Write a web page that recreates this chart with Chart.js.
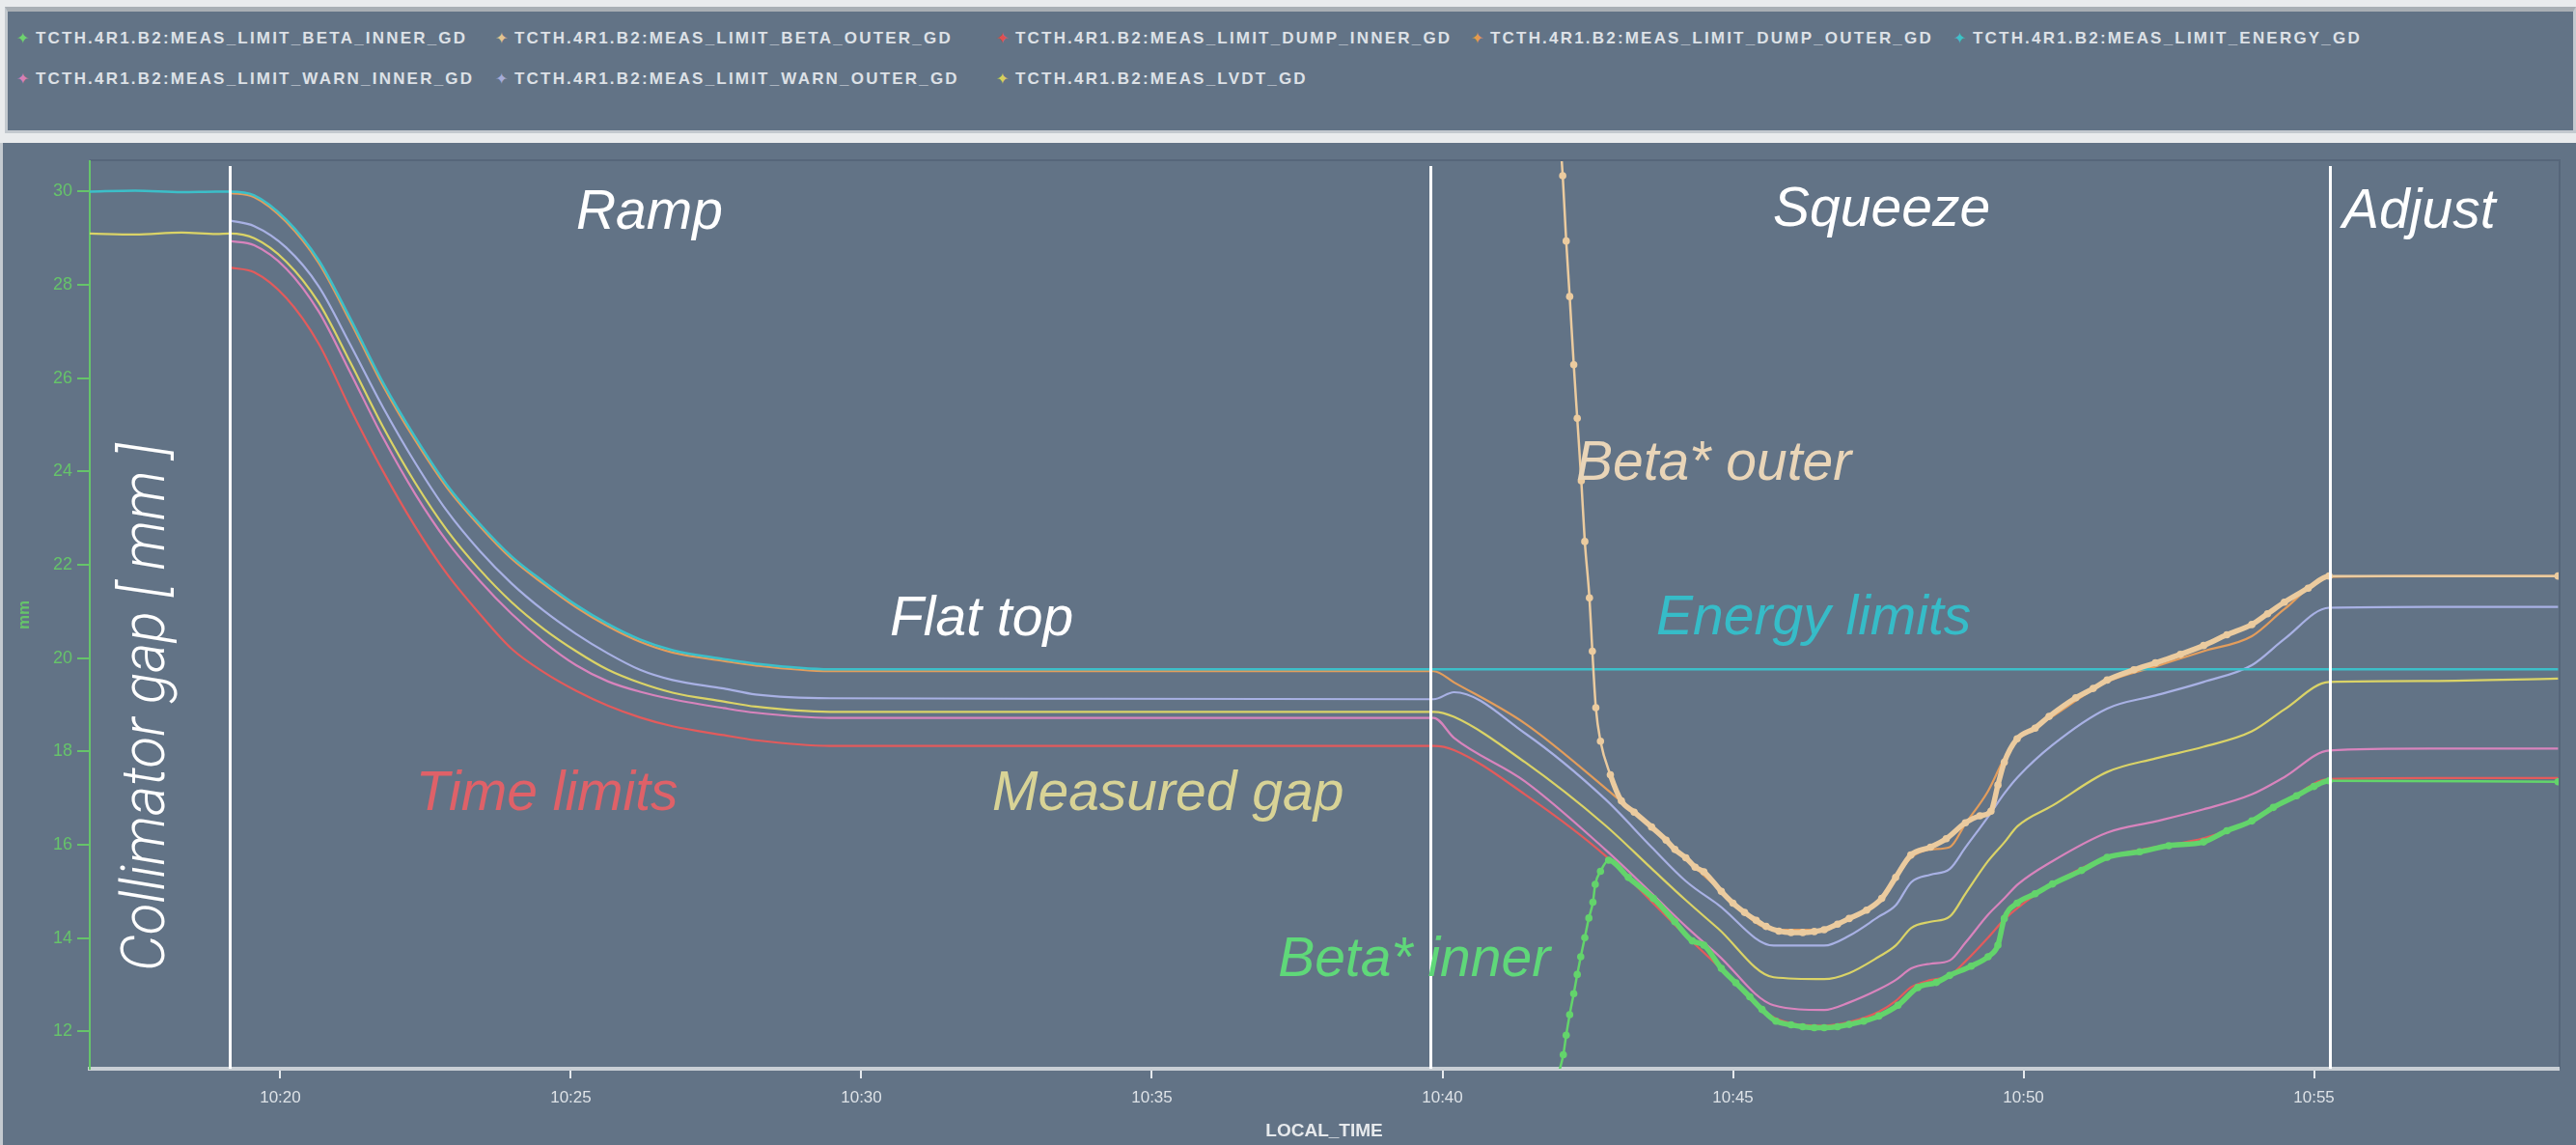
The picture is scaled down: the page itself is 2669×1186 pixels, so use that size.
<!DOCTYPE html>
<html>
<head>
<meta charset="utf-8">
<script src="https://cdn.jsdelivr.net/npm/chart.js@4.4.1/dist/chart.umd.min.js"></script>
<style>
html,body{margin:0;padding:0;width:2669px;height:1186px;overflow:hidden;background:#e9ebed;}
#legendBox{position:absolute;left:5px;top:7px;width:2664px;height:131px;box-sizing:border-box;background:#627386;border:3px solid #c3c9cf;border-top:5px solid #a9afb5;}
.lg{position:absolute;white-space:nowrap;height:20px;line-height:20px;font:bold 17px "Liberation Sans",Arial,sans-serif;letter-spacing:2.2px;color:#dde1e6;}
.lg .mk{display:inline-block;width:20px;font:16px "DejaVu Sans",sans-serif;letter-spacing:0;}
#wrap{position:absolute;left:0;top:148px;width:2669px;height:1038px;}
</style>
</head>
<body>
<div id="legendBox"></div>
<div id="legend"></div>
<div id="wrap"><canvas id="c" width="2669" height="1038"></canvas></div>
<script>
// ---------- data ----------
const seriesNames = [
  "TCTH.4R1.B2:MEAS_LIMIT_BETA_INNER_GD",
  "TCTH.4R1.B2:MEAS_LIMIT_BETA_OUTER_GD",
  "TCTH.4R1.B2:MEAS_LIMIT_DUMP_INNER_GD",
  "TCTH.4R1.B2:MEAS_LIMIT_DUMP_OUTER_GD",
  "TCTH.4R1.B2:MEAS_LIMIT_ENERGY_GD",
  "TCTH.4R1.B2:MEAS_LIMIT_WARN_INNER_GD",
  "TCTH.4R1.B2:MEAS_LIMIT_WARN_OUTER_GD",
  "TCTH.4R1.B2:MEAS_LVDT_GD"
];
const xTickValues = [20, 25, 30, 35, 40, 45, 50, 55];
const xTickLabels = ["10:20", "10:25", "10:30", "10:35", "10:40", "10:45", "10:50", "10:55"];
const yTickValues = [12, 14, 16, 18, 20, 22, 24, 26, 28, 30];

// minutes after 10:00
const limitTimes = [16.72, 17.5, 18.3, 18.9,
  19.13, 19.55, 20.1, 20.66, 21.2, 21.77, 22.32, 22.87, 23.43, 23.98, 24.53, 25.09, 25.64, 26.19, 26.75, 27.63, 28.18, 29.46,
  34.0, 39.85,
  40.2, 41.42, 42.8, 43.6, 44.19, 44.74, 45.7, 46.57, 47.0, 47.51, 47.8, 48.07, 48.4, 48.73, 49.0, 49.39, 49.67, 49.9, 50.5, 51.44, 52.27, 53.1, 53.93, 54.49, 55.26,
  57.0, 59.2];

const energyVals = [30.0, 30.02, 29.99, 30.0,
  30.0, 29.92, 29.4, 28.53, 27.29, 25.9, 24.74, 23.71, 22.88, 22.18, 21.64, 21.14, 20.73, 20.4, 20.17, 19.98, 19.88, 19.76,
  19.76, 19.76,
  19.76, 19.76, 19.76, 19.76, 19.76, 19.76, 19.76, 19.76, 19.76, 19.76, 19.76, 19.76, 19.76, 19.76, 19.76, 19.76, 19.76, 19.76, 19.76, 19.76, 19.76, 19.76, 19.76, 19.76, 19.76,
  19.76, 19.76];

const dumpOuterVals = [null, null, null, null,
  29.97, 29.88, 29.35, 28.47, 27.22, 25.83, 24.67, 23.65, 22.83, 22.13, 21.59, 21.09, 20.68, 20.35, 20.12, 19.94, 19.84, 19.72,
  19.72, 19.72,
  19.48, 18.6, 17.22, 16.36, 15.7, 15.08, 14.18, 14.18, 14.42, 14.81, 15.29, 15.73, 15.9, 15.95, 16.45, 17.15, 17.85, 18.25, 18.75, 19.49, 19.82, 20.15, 20.47, 21.05, 21.74,
  21.76, 21.76];

const warnOuterVals = [null, null, null, null,
  29.38, 29.26, 28.8, 27.97, 26.73, 25.37, 24.19, 23.15, 22.3, 21.6, 21.02, 20.52, 20.1, 19.75, 19.53, 19.35, 19.22, 19.14,
  19.13, 19.12,
  19.27, 18.39, 16.98, 15.95, 15.22, 14.72, 13.84, 13.84, 14.05, 14.46, 14.7, 15.2, 15.36, 15.48, 15.94, 16.6, 17.1, 17.45, 18.14, 18.92, 19.2, 19.49, 19.85, 20.41, 21.08,
  21.1, 21.1];

const lvdtVals = [29.1, 29.08, 29.12, 29.09,
  29.1, 29.0, 28.5, 27.62, 26.35, 24.95, 23.76, 22.74, 21.9, 21.2, 20.63, 20.15, 19.75, 19.47, 19.26, 19.07, 18.96, 18.85,
  18.85, 18.85,
  18.74, 17.77, 16.42, 15.49, 14.81, 14.21, 13.16, 13.12, 13.25, 13.6, 13.84, 14.22, 14.35, 14.46, 14.95, 15.65, 16.05, 16.4, 16.84, 17.56, 17.85, 18.1, 18.43, 18.9, 19.49,
  19.51, 19.56];

const warnInnerVals = [null, null, null, null,
  28.94, 28.85, 28.35, 27.43, 26.13, 24.72, 23.52, 22.5, 21.66, 20.95, 20.35, 19.85, 19.5, 19.28, 19.12, 18.93, 18.83, 18.72,
  18.72, 18.72,
  18.29, 17.36, 15.9, 14.96, 14.25, 13.64, 12.56, 12.46, 12.62, 12.9, 13.1, 13.35, 13.45, 13.52, 13.9, 14.5, 14.85, 15.15, 15.65, 16.26, 16.5, 16.76, 17.08, 17.45, 18.02,
  18.06, 18.06];

const dumpInnerVals = [null, null, null, null,
  28.37, 28.27, 27.72, 26.74, 25.36, 24.0, 22.82, 21.8, 20.95, 20.2, 19.7, 19.3, 18.98, 18.73, 18.54, 18.35, 18.24, 18.12,
  18.12, 18.12,
  18.03, 17.08, 15.77, 14.78, 14.05, 13.41, 12.3, 12.12, 12.2, 12.42, 12.65, 12.95, 13.1, 13.2, 13.5, 14.01, 14.4, 14.65, 15.16, 15.73, 15.95, 16.14, 16.51, 16.9, 17.41,
  17.43, 17.43];

const betaOuterTimes = [42.04, 42.07, 42.13, 42.19, 42.26, 42.32, 42.39, 42.45, 42.53, 42.58, 42.64, 42.72, 42.89, 43.08, 43.3, 43.6, 43.85, 44.0, 44.19, 44.35, 44.5, 44.8, 45.0, 45.2, 45.4, 45.57, 45.79, 46.0, 46.2, 46.4, 46.57, 46.8, 47.0, 47.3, 47.56, 47.8, 48.06, 48.4, 48.67, 49.0, 49.25, 49.44, 49.56, 49.67, 49.89, 50.2, 50.44, 50.9, 51.2, 51.44, 51.9, 52.27, 52.7, 53.1, 53.5, 53.93, 54.2, 54.49, 54.9, 55.26, 59.2];
const betaOuterVals = [30.9, 30.34, 28.94, 27.75, 26.29, 25.14, 23.8, 22.5, 21.29, 20.15, 18.94, 18.22, 17.5, 16.94, 16.7, 16.38, 16.1, 15.9, 15.72, 15.52, 15.42, 15.0, 14.75, 14.55, 14.38, 14.25, 14.15, 14.12, 14.12, 14.14, 14.18, 14.3, 14.42, 14.6, 14.85, 15.3, 15.78, 15.95, 16.13, 16.47, 16.62, 16.72, 17.28, 17.77, 18.27, 18.5, 18.75, 19.15, 19.35, 19.53, 19.75, 19.9, 20.08, 20.27, 20.5, 20.72, 20.95, 21.2, 21.5, 21.76, 21.76];

const betaInnerTimes = [42.0, 42.08, 42.13, 42.19, 42.26, 42.32, 42.38, 42.45, 42.52, 42.59, 42.63, 42.72, 42.86, 43.2, 43.63, 44.0, 44.3, 44.5, 44.8, 45.05, 45.29, 45.5, 45.74, 46.0, 46.2, 46.4, 46.57, 46.8, 47.0, 47.25, 47.51, 47.84, 48.18, 48.5, 48.73, 49.1, 49.39, 49.56, 49.67, 49.89, 50.2, 50.5, 51.0, 51.44, 52.0, 52.5, 53.1, 53.5, 53.93, 54.3, 54.7, 55.0, 55.26, 59.2];
const betaInnerVals = [11.1, 11.5, 11.92, 12.36, 12.81, 13.22, 13.6, 14.01, 14.43, 14.77, 15.15, 15.43, 15.67, 15.3, 14.85, 14.35, 13.94, 13.85, 13.35, 13.04, 12.74, 12.47, 12.22, 12.14, 12.1, 12.08, 12.08, 12.1, 12.15, 12.22, 12.33, 12.56, 12.94, 13.05, 13.2, 13.4, 13.6, 13.85, 14.42, 14.75, 14.95, 15.16, 15.45, 15.73, 15.85, 15.98, 16.06, 16.3, 16.51, 16.8, 17.05, 17.25, 17.37, 17.35];

const phaseLineTimes = [19.13, 39.8, 55.27];

// ---------- styles ----------
const seriesColors = ["#63d46b", "#ebcb9f", "#e35b5c", "#e39d5c", "#3cbfc9", "#d884bd", "#a8b1e4", "#dad367"];
const legendColors = ["#6ed36e", "#e3c490", "#e05050", "#e39a4e", "#3ec1c9", "#d77fb5", "#a6acd8", "#d6cf5c"];

const annotations = [
  {text: "Ramp", t: 25.09, v: 29.21, color: "#ffffff"},
  {text: "Flat top", t: 30.49, v: 20.5, color: "#ffffff"},
  {text: "Squeeze", t: 45.69, v: 29.26, color: "#ffffff"},
  {text: "Adjust", t: 55.49, v: 29.23, color: "#ffffff"},
  {text: "Beta* outer", t: 42.3, v: 23.83, color: "#e9d5b8"},
  {text: "Energy limits", t: 43.68, v: 20.52, color: "#36bcc8"},
  {text: "Time limits", t: 22.33, v: 16.75, color: "#df6168"},
  {text: "Measured gap", t: 32.25, v: 16.75, color: "#d8d396"},
  {text: "Beta* inner", t: 37.17, v: 13.18, color: "#5fd879"}
];

// ---------- legend (HTML text) ----------
const legCols = [17, 513, 1032, 1524, 2024];
const legRows = [30, 72];
const legendEl = document.getElementById('legend');
seriesNames.forEach((name, i) => {
  const d = document.createElement('div');
  d.className = 'lg';
  d.style.left = legCols[i % 5] + 'px';
  d.style.top = legRows[Math.floor(i / 5)] + 'px';
  const m = document.createElement('span');
  m.className = 'mk';
  m.style.color = legendColors[i];
  m.textContent = '\u2726';
  const t = document.createElement('span');
  t.textContent = name;
  d.appendChild(m); d.appendChild(t);
  legendEl.appendChild(d);
});

// ---------- datasets ----------
function pts(times, vals) {
  const out = [];
  for (let i = 0; i < times.length; i++) if (vals[i] !== null) out.push({x: times[i], y: vals[i]});
  return out;
}
const seriesData = [
  pts(betaInnerTimes, betaInnerVals),
  pts(betaOuterTimes, betaOuterVals),
  pts(limitTimes, dumpInnerVals),
  pts(limitTimes, dumpOuterVals),
  pts(limitTimes, energyVals),
  pts(limitTimes, warnInnerVals),
  pts(limitTimes, warnOuterVals),
  pts(limitTimes, lvdtVals)
];
const drawOrder = [0, 1, 3, 4, 2, 5, 6, 7];
const datasets = seriesNames.map((name, i) => {
  const isBeta = i < 2;
  const ds = {
    label: name,
    data: seriesData[i],
    borderColor: seriesColors[i],
    backgroundColor: seriesColors[i],
    borderWidth: isBeta ? 2.5 : (i === 4 ? 2.5 : 2.2),
    pointRadius: isBeta ? 3.8 : 0,
    pointBorderWidth: 0,
    pointBackgroundColor: seriesColors[i],
    cubicInterpolationMode: 'monotone',
    fill: false,
    order: drawOrder[i]
  };
  if (isBeta) {
    ds.segment = {
      borderWidth: c => (c.p0.parsed.x >= 42.85 && c.p0.parsed.x < 55.2) ? 5.5 : 2.5
    };
  }
  return ds;
});

// ---------- plugin: panel, phase lines, annotations ----------
const panelPlugin = {
  id: 'panel',
  beforeDraw(chart) {
    const {ctx, width, height, chartArea: a} = chart;
    ctx.save();
    ctx.fillStyle = '#627386';
    ctx.fillRect(0, 0, width, height);
    ctx.fillStyle = '#c4cad0';
    ctx.fillRect(0, 0, 3, height);
    ctx.strokeStyle = '#56667a';
    ctx.lineWidth = 2;
    ctx.beginPath();
    ctx.moveTo(a.left, a.top - 1);
    ctx.lineTo(a.right + 1, a.top - 1);
    ctx.lineTo(a.right + 1, a.bottom);
    ctx.stroke();
    ctx.restore();
  },
  afterDatasetsDraw(chart) {
    const {ctx, chartArea: a} = chart;
    const xs = chart.scales.x, ys = chart.scales.y;
    ctx.save();
    ctx.strokeStyle = '#ffffff';
    ctx.lineWidth = 3;
    phaseLineTimes.forEach(t => {
      const px = Math.round(xs.getPixelForValue(t)) + 0.5;
      ctx.beginPath();
      ctx.moveTo(px, a.top + 5);
      ctx.lineTo(px, a.bottom);
      ctx.stroke();
    });
    ctx.font = 'italic 57px "Liberation Sans", Arial, sans-serif';
    ctx.textAlign = 'left';
    ctx.textBaseline = 'alphabetic';
    annotations.forEach(n => {
      ctx.fillStyle = n.color;
      ctx.fillText(n.text, xs.getPixelForValue(n.t), ys.getPixelForValue(n.v));
    });
    // rotated axis caption
    const cap = 'Collimator gap [ mm ]';
    ctx.font = 'italic 300 63px Roboto, "Liberation Sans", sans-serif';
    const w = ctx.measureText(cap).width;
    ctx.translate(xs.getPixelForValue(18.0), ys.getPixelForValue(18.95));
    ctx.rotate(-Math.PI / 2);
    ctx.scale(547 / w, 1);
    ctx.textAlign = 'center';
    ctx.fillStyle = '#ffffff';
    ctx.fillText(cap, 0, 0);
    ctx.restore();
  }
};

new Chart(document.getElementById('c'), {
  type: 'line',
  data: {datasets},
  options: {
    responsive: false,
    animation: false,
    devicePixelRatio: 1,
    layout: {padding: {left: 0, right: 18, top: 19, bottom: 0}},
    plugins: {legend: {display: false}, tooltip: {enabled: false}},
    scales: {
      x: {
        type: 'linear', min: 16.72, max: 59.21,
        afterFit(s) { s.height = 79; },
        afterBuildTicks(s) { s.ticks = xTickValues.map(v => ({value: v})); },
        ticks: {
          callback: v => { const k = xTickValues.indexOf(v); return k >= 0 ? xTickLabels[k] : ''; },
          color: '#dde2e7', font: {family: 'Liberation Sans', size: 17}, padding: 10, maxRotation: 0, autoSkip: false
        },
        grid: {drawOnChartArea: false, drawTicks: true, tickLength: 10, color: '#e6eaee', tickColor: '#e6eaee', lineWidth: 2},
        border: {display: true, color: '#c9cfd5', width: 4},
        title: {display: true, text: 'LOCAL_TIME', color: '#e6e9ec', font: {family: 'Liberation Sans', size: 19, weight: 'bold'}, padding: {top: 0, bottom: 3}}
      },
      y: {
        type: 'linear', min: 11.2, max: 30.65,
        afterFit(s) { s.width = 93; },
        afterBuildTicks(s) { s.ticks = yTickValues.map(v => ({value: v})); },
        ticks: {color: '#66c46a', font: {family: 'Liberation Sans', size: 18}, padding: 5, callback: v => String(v)},
        grid: {drawOnChartArea: false, drawTicks: true, tickLength: 13, color: '#66c46a', tickColor: '#66c46a', lineWidth: 2},
        border: {display: true, color: '#66c46a', width: 2},
        title: {display: true, text: 'mm', color: '#66c46a', font: {family: 'Liberation Sans', size: 17, weight: 'bold'}, padding: {top: 15, bottom: 0}}
      }
    }
  },
  plugins: [panelPlugin]
});
</script>
</body>
</html>
